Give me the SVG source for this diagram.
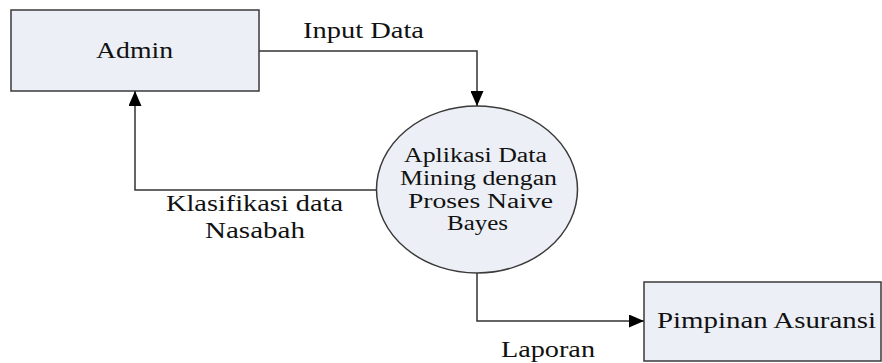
<svg xmlns="http://www.w3.org/2000/svg" width="882" height="363" viewBox="0 0 882 363">
<style>
.node{fill:#eceff5;stroke:#3a3a3a;stroke-width:1.5}
.lbl{font-family:"Liberation Serif","Times New Roman",serif;font-size:24px;fill:#111}
.inner{font-size:20.5px}
.conn{fill:none;stroke:#333;stroke-width:1.5}
</style>
<defs>
<marker id="arr" markerWidth="15" markerHeight="13" refX="15" refY="6.5" orient="auto" markerUnits="userSpaceOnUse">
<path d="M0,0 L15,6.5 L0,13 Z" fill="#000"/>
</marker>
</defs>
<rect width="882" height="363" fill="#fff"/>
<g id="admin">
<rect class="node" x="11" y="10" width="248" height="81"/>
<text class="lbl" x="96" y="58" textLength="77" lengthAdjust="spacingAndGlyphs">Admin</text>
</g>
<g id="proses">
<ellipse class="node" cx="477" cy="189.5" rx="100.5" ry="83.5"/>
<text class="lbl inner" x="404" y="162" textLength="143" lengthAdjust="spacingAndGlyphs">Aplikasi Data</text>
<text class="lbl inner" x="400" y="185" textLength="157" lengthAdjust="spacingAndGlyphs">Mining dengan</text>
<text class="lbl inner" x="408" y="207.5" textLength="145" lengthAdjust="spacingAndGlyphs">Proses Naive</text>
<text class="lbl inner" x="447" y="230" textLength="61" lengthAdjust="spacingAndGlyphs">Bayes</text>
</g>
<g id="pimpinan">
<rect class="node" x="644" y="282" width="237" height="79"/>
<text class="lbl" x="657" y="328" textLength="219" lengthAdjust="spacingAndGlyphs">Pimpinan Asuransi</text>
</g>
<g id="connectors">
<polyline class="conn" points="259,51 477,51 477,106" marker-end="url(#arr)"/>
<polyline class="conn" points="376.5,190 135,190 135,91" marker-end="url(#arr)"/>
<polyline class="conn" points="477,273 477,321 644,321" marker-end="url(#arr)"/>
<text class="lbl" x="303" y="38" textLength="121" lengthAdjust="spacingAndGlyphs">Input Data</text>
<text class="lbl" x="166" y="211" textLength="177" lengthAdjust="spacingAndGlyphs">Klasifikasi data</text>
<text class="lbl" x="205" y="238" textLength="100" lengthAdjust="spacingAndGlyphs">Nasabah</text>
<text class="lbl" x="501" y="357" textLength="94" lengthAdjust="spacingAndGlyphs">Laporan</text>
</g>
</svg>
